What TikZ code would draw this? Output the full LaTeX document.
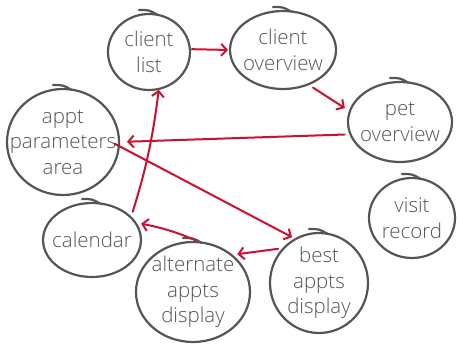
\documentclass[tikz,border=0pt]{standalone}
\usepackage{fontspec}
\setmainfont{Open Sans Light}
\usetikzlibrary{shapes.geometric,arrows.meta}
\definecolor{ink}{RGB}{85,85,85}
\definecolor{flow}{RGB}{200,18,48}
\tikzset{
  bubble/.style={ellipse, draw=ink, line width=2.2pt, inner sep=0pt, outer sep=0pt},
  caption/.style={text=ink, align=center, inner sep=0pt, font=\fontsize{20.5}{25.5}\selectfont},
  flick/.style={draw=ink, line width=2.2pt, line cap=round},
  link/.style={draw=flow, line width=2pt, line cap=round,
    -{Straight Barb[length=5.5pt,width=12pt,line width=2pt]},
    shorten >=6pt, shorten <=6pt}
}
% short overlapping pen stroke over the top of each bubble
\newcommand{\flick}[1]{%
  \draw[flick] ([shift={(-10,-4)}]#1.north) .. controls ([shift={(0,-4)}]#1.north) .. ([shift={(8,0.5)}]#1.north);}
\begin{document}
\begin{tikzpicture}[x=1pt,y=-1pt]
\useasboundingbox (0,0) rectangle (457,345);

\node[bubble, minimum width=82pt, minimum height=76pt,
  label={[caption]center:client\\list}] (cl) at (149,52) {};
\node[bubble, minimum width=106pt, minimum height=78pt,
  label={[caption]center:client\\overview}] (co) at (283,50) {};
\node[bubble, minimum width=104pt, minimum height=80pt,
  label={[caption]center:pet\\overview}] (po) at (400,122) {};
\node[bubble, minimum width=112pt, minimum height=106pt,
  label={[caption]center:appt\\parameters\\area}] (ap) at (63,142) {};
\node[bubble, minimum width=98pt, minimum height=74pt,
  label={[caption]center:calendar}] (cal) at (92,240) {};
\node[bubble, minimum width=114pt, minimum height=100pt,
  label={[caption]center:alternate\\appts\\display}] (alt) at (193,292) {};
\node[bubble, minimum width=98pt, minimum height=100pt,
  label={[caption]center:best\\appts\\display}] (best) at (319,283) {};
\node[bubble, minimum width=86pt, minimum height=80pt,
  label={[caption]center:visit\\record}] (vr) at (412,218) {};

\foreach \n in {cl,co,po,ap,cal,alt,best,vr} {\flick{\n}}

\draw[link, shorten <=2pt, shorten >=2pt] (cl.4) -- (co.west);
\draw[link] (co.-54) -- (po.168);
\draw[link, shorten >=8pt] (po.194) -- (ap.east);
\draw[link, shorten <=-5pt, shorten >=4pt] (ap.-4) -- (best.118);
\draw[link] (best.135) -- (alt.44);
\draw[link, bend right=6] (alt.81) to (cal.22);
\draw[link, bend right=5, shorten >=1pt] (cal.30) to (cl.-75);
\end{tikzpicture}
\end{document}
